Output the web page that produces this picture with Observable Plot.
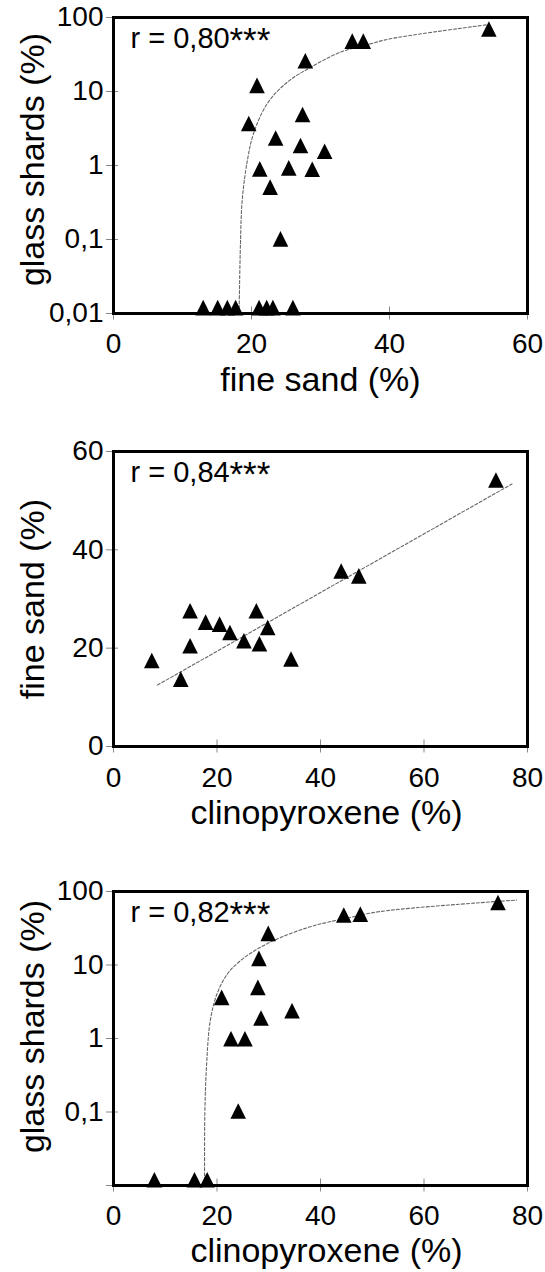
<!DOCTYPE html>
<html><head><meta charset="utf-8">
<script src="https://cdn.jsdelivr.net/npm/d3@7"></script>
<script src="https://cdn.jsdelivr.net/npm/@observablehq/plot@0.6"></script>
<style>
html,body{margin:0;padding:0;background:#fff;}
#chart{width:545px;}
#chart svg{display:block;}
</style></head><body><div id="chart"></div>
<script>
// ---------- Panel 1: fine sand vs glass shards ----------
const sand1  = [54.4, 34.6, 36.2, 27.8, 20.8, 19.6, 27.4, 23.5, 27.1, 30.6, 21.2, 25.4, 28.8, 22.7, 24.2, 13.0, 15.1, 16.5, 17.7, 21.1, 22.2, 23.1, 26.0];
const glass1 = [70, 48, 48, 26, 12.1, 3.7, 4.9, 2.35, 1.86, 1.56, 0.9, 0.93, 0.89, 0.51, 0.102, 0.012, 0.012, 0.012, 0.012, 0.012, 0.012, 0.012, 0.012];
const fit1x = [18.2, 18.4, 18.65, 19.4, 20.3, 22.3, 25.2, 28.6, 32.9, 37.2, 40.1, 54.2];
const fit1y = [0.01, 0.088, 0.337, 1.17, 2.71, 6.9, 13.4, 21.3, 34, 44, 51.5, 80];

// ---------- Panel 2: clinopyroxene vs fine sand ----------
const cpx2  = [73.9, 44.0, 47.4, 27.6, 14.8, 17.8, 20.5, 22.5, 29.8, 25.2, 28.2, 14.8, 7.4, 34.3, 13.0];
const sand2 = [54.2, 35.7, 34.7, 27.6, 27.6, 25.3, 24.9, 23.2, 24.2, 21.5, 20.9, 20.5, 17.5, 17.8, 13.7];
const fit2x = [8.5, 77.0];
const fit2y = [12.5, 53.4];

// ---------- Panel 3: clinopyroxene vs glass shards ----------
const cpx3   = [74.3, 44.5, 47.7, 29.9, 28.1, 27.9, 20.9, 34.5, 28.5, 22.7, 25.4, 24.1, 7.9, 15.65, 18.1];
const glass3 = [71, 47.8, 49.3, 26.9, 12.3, 4.96, 3.63, 2.39, 1.9, 0.99, 0.99, 0.103, 0.012, 0.012, 0.012];
const fit3x = [17.6, 17.65, 18.0, 18.7, 20.0, 22.0, 24.5, 27.8, 32.3, 38.7, 45.2, 51.6, 77.9];
const fit3y = [0.01, 0.0946, 0.452, 1.75, 4.04, 7.55, 11.4, 16.5, 23.7, 34.2, 43.5, 53.5, 76.4];

// ---------- ticks & labels ----------
const logTicks = [0.01, 0.1, 1, 10, 100];
const logTickLabels1 = ["0,01", "0,1", "1", "10", "100"];
const logTickLabels3 = ["", "0,1", "1", "10", "100"];
const linTicks2 = [0, 20, 40, 60];
const linTickLabels2 = ["0", "20", "40", "60"];
const xTicks60 = [0, 20, 40, 60];
const xTicks80 = [0, 20, 40, 60, 80];
const rValues = ["r = 0,80", "r = 0,84", "r = 0,82"];
const rStars = "***";

const FONT = "'Liberation Sans', Arial, Helvetica, sans-serif";
const triangle = {
  draw(context, size) {
    const r = Math.sqrt(size / Math.PI);
    const w = r * 1.3, h = r * 1.3;
    context.moveTo(0, -h);
    context.lineTo(w, h);
    context.lineTo(-w, h);
    context.closePath();
  }
};

function panel(o) {
  const pts = o.px.map((x, i) => ({x, y: o.py[i]}));
  const fit = o.fx.map((x, i) => ({x, y: o.fy[i]}));
  return Plot.plot({
    width: 545, height: o.height,
    marginLeft: 113, marginRight: 18, marginTop: o.marginTop, marginBottom: o.marginBottom,
    style: {fontFamily: FONT, background: "white", color: "black", overflow: "visible"},
    x: {domain: o.xDomain},
    y: {type: o.yType, domain: o.yDomain},
    marks: [
      Plot.line(fit, {x: "x", y: "y", stroke: "#666", strokeWidth: 1.1, strokeDasharray: "3,2", curve: o.curve}),
      Plot.axisX(o.xTicks, {tickSize: 13, dy: -6.5, fill: "none", stroke: "#888", label: null}),
      Plot.axisY(o.yTicks, {tickSize: 12, dx: 5, fill: "none", stroke: "#888", label: null}),
      Plot.frame({stroke: "black", strokeWidth: 3}),
      Plot.dot(pts, {x: "x", y: "y", symbol: triangle, r: 6, fill: "black", stroke: "none"}),
      Plot.text(o.xTicks, {x: d => d, text: d => String(d), frameAnchor: "bottom", dy: o.xTickDy, lineAnchor: "bottom", textAnchor: "middle", fontSize: 28}),
      Plot.text(o.yTicks, {y: d => d, text: (d, i) => o.yTickLabels[i], frameAnchor: "left", dx: -10, textAnchor: "end", lineAnchor: "middle", fontSize: 28}),
      Plot.text([o.xLabel], {text: d => d, frameAnchor: "bottom", dx: o.xLabelDx, dy: o.xLabelDy, lineAnchor: "bottom", textAnchor: "middle", fontSize: 34}),
      Plot.text([o.yLabel], {text: d => d, frameAnchor: "left", dx: -70, dy: o.yLabelDy, rotate: -90, lineAnchor: "bottom", textAnchor: "middle", fontSize: 34}),
      Plot.text([o.rValue], {text: d => d, frameAnchor: "top-left", dx: 17, dy: 30, lineAnchor: "bottom", textAnchor: "start", fontSize: 29}),
      Plot.text([rStars], {text: d => d, frameAnchor: "top-left", dx: 116, dy: 34, lineAnchor: "bottom", textAnchor: "start", fontSize: 35})
    ]
  });
}

const chart = document.getElementById("chart");
chart.append(panel({
  height: 420, marginTop: 17, marginBottom: 107,
  xDomain: [0, 60], xTicks: xTicks60,
  yType: "log", yDomain: [0.01, 100], yTicks: logTicks, yTickLabels: logTickLabels1,
  px: sand1, py: glass1, fx: fit1x, fy: fit1y, curve: "catmull-rom",
  xLabel: "fine sand (%)", xLabelDx: 0, xLabelDy: 77, xTickDy: 39,
  yLabel: "glass shards (%)", yLabelDy: -6, rValue: rValues[0]
}));
chart.append(panel({
  height: 440, marginTop: 31, marginBottom: 114,
  xDomain: [0, 80], xTicks: xTicks80,
  yType: "linear", yDomain: [0, 60], yTicks: linTicks2, yTickLabels: linTickLabels2,
  px: cpx2, py: sand2, fx: fit2x, fy: fit2y, curve: "linear",
  xLabel: "clinopyroxene (%)", xLabelDx: 6, xLabelDy: 77, xTickDy: 40,
  yLabel: "fine sand (%)", yLabelDy: 0, rValue: rValues[1]
}));
chart.append(panel({
  height: 412, marginTop: 31, marginBottom: 87,
  xDomain: [0, 80], xTicks: xTicks80,
  yType: "log", yDomain: [0.01, 100], yTicks: logTicks, yTickLabels: logTickLabels3,
  px: cpx3, py: glass3, fx: fit3x, fy: fit3y, curve: "catmull-rom",
  xLabel: "clinopyroxene (%)", xLabelDx: 6, xLabelDy: 76, xTickDy: 39,
  yLabel: "glass shards (%)", yLabelDy: -12, rValue: rValues[2]
}));
</script>
</body></html>
